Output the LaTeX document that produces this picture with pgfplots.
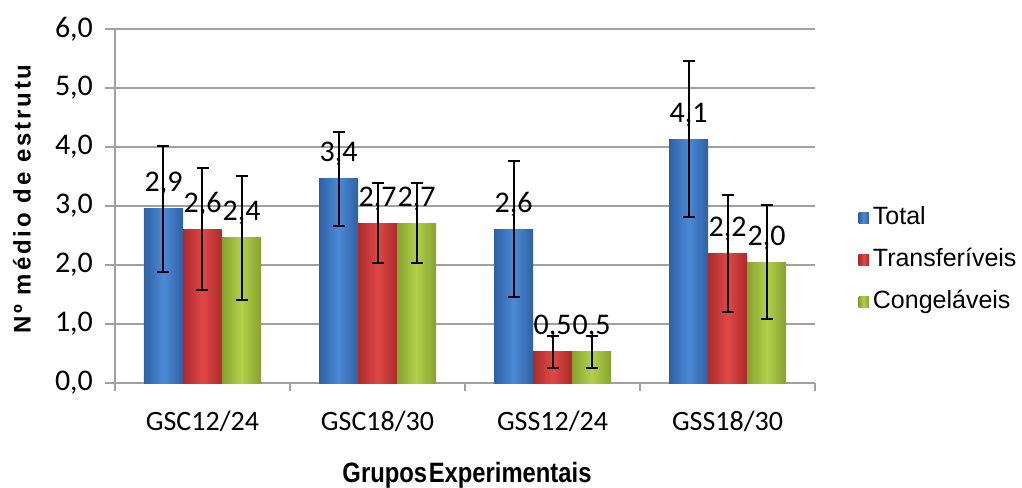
\documentclass[border=0pt]{standalone}
\usepackage{pgfplots}
\pgfplotsset{compat=1.18}
\usepackage{pgfplotstable}
\usepackage{fontspec}
\usepackage{graphicx}
\setmainfont{Carlito}
\newfontfamily\arialf{Liberation Sans}
\newfontfamily\ylabf[LetterSpace=12]{Liberation Sans}

\definecolor{blueL}{HTML}{4C8AD6}
\definecolor{blueD}{HTML}{2E60A4}
\definecolor{redL}{HTML}{E04848}
\definecolor{redD}{HTML}{AC2A2A}
\definecolor{greenL}{HTML}{B2D04A}
\definecolor{greenD}{HTML}{86A230}
\definecolor{gridc}{HTML}{A0A0A0}

% groups: GSC12/24, GSC18/30, GSS12/24, GSS18/30
\pgfplotstableread{
x y e l
0 2.95 1.07 2,9
1 3.46 0.80 3,4
2 2.61 1.15 2,6
3 4.13 1.32 4,1
}\total
\pgfplotstableread{
x y e l
0 2.61 1.03 2,6
1 2.71 0.68 2,7
2 0.53 0.27 0,5
3 2.20 0.99 2,2
}\transf
\pgfplotstableread{
x y e l
0 2.46 1.05 2,4
1 2.71 0.68 2,7
2 0.53 0.27 0,5
3 2.05 0.96 2,0
}\conge

% one bar is 19.5pt wide, one group is 87.5pt wide
\def\off{0.22286}

\pgfplotsset{
    barstyle/.style={ybar, bar width=19.5pt, bar shift=0pt, draw=none, forget plot,
        point meta=explicit symbolic, nodes near coords,
        restrict expr to domain={\coordindex}{#1:#1},
        error bars/y dir=both, error bars/y explicit,
        error bars/error bar style={black, line width=1pt},
        error bars/error mark options={black, rotate=90, mark size=3pt, line width=1pt}},
    sh/.style 2 args={left color=#1, right color=#1, middle color=#2},
}

\begin{document}
\begin{tikzpicture}
\useasboundingbox (-57.5pt,-52pt) rectangle (453.5pt,191.5pt);
\begin{axis}[
    name=ax, at={(0,0)}, anchor=south west,
    scale only axis, width=350pt, height=177pt,
    xmin=-0.5, xmax=3.5, ymin=0, ymax=6,
    axis x line*=bottom, axis y line*=left,
    axis line style={gridc, line width=0.6pt},
    tick style={gridc, line width=0.6pt},
    tick align=outside,
    xtick={0,1,2,3},
    xticklabels={GSC12/24, GSC18/30, GSS12/24, GSS18/30},
    major x tick style={draw=none},
    minor xtick={-0.5,0.5,1.5,2.5,3.5},
    minor tick length=4pt, major tick length=5pt,
    ytick={0,1,...,6},
    ymajorgrids, grid style={gridc, line width=0.6pt},
    /pgf/number format/assume math mode=true,
    yticklabel style={font=\fontsize{15}{18}\selectfont, xshift=-2.5pt,
        /pgf/number format/.cd, fixed, fixed zerofill, precision=1, use comma},
    xticklabel style={font=\fontsize{14}{17}\selectfont, yshift=-5.5pt},
    every node near coord/.append style={font=\fontsize{15}{18}\selectfont,
        text=black, anchor=base, yshift=8.5pt, inner sep=0pt},
    legend image code/.code={\path[#1, draw=none] (0pt,-2.6pt) rectangle (5.2pt,2.6pt);},
    legend cell align=left,
    legend style={at={(1.053,0.347)}, anchor=west, draw=none, fill=none,
        font=\arialf\fontsize{12.5}{14}\selectfont, row sep=5.5pt,
        nodes={inner sep=2pt, text height=9pt, text depth=2.5pt}},
]
\pgfplotsinvokeforeach{0,1,2,3}{
\addplot[barstyle=#1, sh={blueD}{blueL}]
    table[x expr=\thisrow{x}-\off, y=y, y error=e, meta=l] {\total};
\addplot[barstyle=#1, sh={redD}{redL}]
    table[x=x, y=y, y error=e, meta=l] {\transf};
\addplot[barstyle=#1, sh={greenD}{greenL}]
    table[x expr=\thisrow{x}+\off, y=y, y error=e, meta=l] {\conge};
}
\addlegendimage{sh={blueD}{blueL}}
\addlegendentry{Total}
\addlegendimage{sh={redD}{redL}}
\addlegendentry{Transferíveis}
\addlegendimage{sh={greenD}{greenL}}
\addlegendentry{Congeláveis}
\end{axis}
\node[rotate=90, font=\ylabf\bfseries\fontsize{12}{14}\selectfont] at (-46.5pt,92pt) {Nº médio de estrutu};
\node[anchor=base, font=\arialf\bfseries\fontsize{14}{16}\selectfont] at (176pt,-49.5pt)
    {\scalebox{0.85}[1]{Grupos\kern1pt Experimentais}};
\end{tikzpicture}
\end{document}
